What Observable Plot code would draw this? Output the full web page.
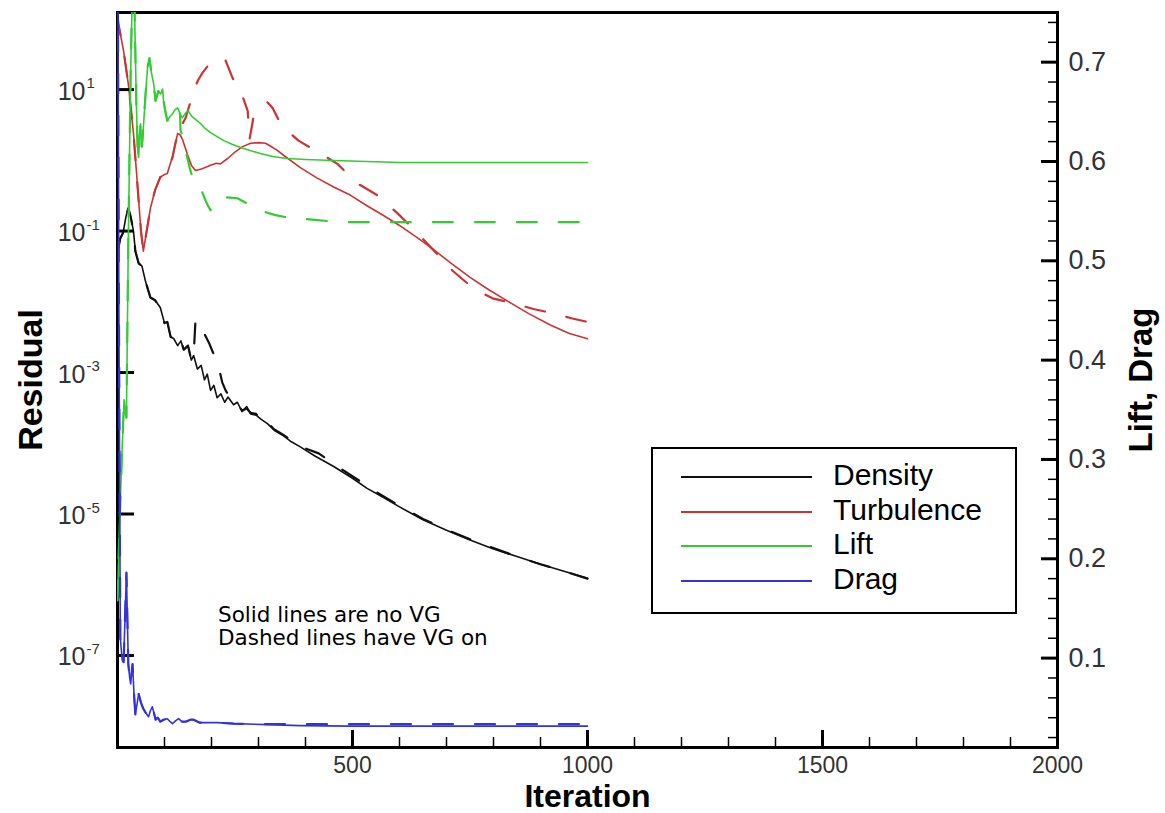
<!DOCTYPE html>
<html><head><meta charset="utf-8">
<script src="https://cdn.jsdelivr.net/npm/d3@7"></script>
<script src="https://cdn.jsdelivr.net/npm/@observablehq/plot@0.6"></script>
<style>
html,body{margin:0;padding:0;background:#fff;}
#wrap{position:relative;width:1165px;height:813px;overflow:hidden;font-family:"Liberation Sans",Arial,sans-serif;}
#wrap svg{position:absolute;left:0;top:0;}
#legend{position:absolute;left:651px;top:447px;width:362px;height:163px;border:2px solid #000;background:#fff;}
.lg{position:absolute;left:28px;width:131px;height:0;border-top:2px solid;}
.lt{position:absolute;left:180px;font-size:30px;line-height:30px;color:#000;}
#note{position:absolute;left:218px;top:603px;font-family:"DejaVu Sans","Liberation Sans",sans-serif;font-size:21.5px;line-height:23px;color:#000;}
</style></head><body><div id="wrap"><div id="legend"></div><div id="note"></div></div>
<script>
// ---------- data (iteration, value) ----------
const densityNoVG = [[0,5.0e-2],[6,7.9e-2],[12,9.5e-2],[18,1.6e-1],[23,2.1e-1],[28,1.6e-1],[34,1.0e-1],[38,5.2e-2],[45,3.5e-2],[52,3.2e-2],[60,1.9e-2],[70,1.15e-2],[80,1.05e-2],[91,8.3e-3],[100,5.0e-3],[106,5.2e-3],[113,3.2e-3],[120,3.0e-3],[128,2.4e-3],[135,2.8e-3],[141,2.1e-3],[150,2.4e-3],[157,1.5e-3],[162,1.74e-3],[170,1.12e-3],[178,1.26e-3],[185,7.9e-4],[191,9.5e-4],[198,5.6e-4],[205,6.6e-4],[212,4.4e-4],[220,5.0e-4],[228,3.8e-4],[235,4.5e-4],[247,3.5e-4],[255,3.8e-4],[265,2.8e-4],[275,3.3e-4],[283,2.6e-4],[295,2.5e-4],[305,2.2e-4],[319,1.9e-4],[335,1.5e-4],[354,1.26e-4],[370,1.05e-4],[389,8.9e-5],[420,6.6e-5],[460,4.7e-5],[500,3.2e-5],[531,2.3e-5],[567,1.7e-5],[600,1.26e-5],[650,8.3e-6],[700,5.9e-6],[750,4.3e-6],[800,3.2e-6],[850,2.5e-6],[900,1.95e-6],[950,1.55e-6],[1000,1.23e-6]];
const densityVGLate = [[166,5.6e-3],[172,4.9e-3],[180,4.0e-3],[187,3.3e-3],[195,2.6e-3],[202,2.0e-3],[210,1.5e-3],[215,1.23e-3],[223,7.2e-4],[230,5.6e-4],[236,4.8e-4],[247,3.7e-4],[255,3.6e-4],[265,2.9e-4],[275,3.1e-4],[283,2.7e-4],[295,2.6e-4],[305,2.2e-4],[311,2.4e-4],[322,1.9e-4],[332,1.6e-4],[354,1.3e-4],[370,1.1e-4],[389,9.0e-5],[428,7.2e-5],[468,4.7e-5],[513,3.0e-5],[553,2.0e-5],[600,1.3e-5],[650,8.5e-6],[700,6.0e-6],[750,4.4e-6],[800,3.3e-6],[850,2.5e-6],[900,1.95e-6],[950,1.55e-6],[1000,1.22e-6]];

const turbulenceNoVG = [[0,112],[2,85],[13,35],[23,12],[34,2.4],[45,0.27],[50,0.1],[55,5.2e-2],[62,0.1],[70,0.21],[80,0.38],[91,0.58],[100,0.63],[106,0.65],[112,0.89],[117,1.1],[122,1.6],[128,2.4],[133,2.3],[138,2.0],[145,1.45],[151,1.1],[158,0.83],[166,0.72],[180,0.76],[198,0.85],[210,0.91],[219,0.89],[235,1.07],[247,1.26],[265,1.55],[283,1.74],[300,1.78],[315,1.74],[326,1.58],[340,1.38],[354,1.17],[389,0.79],[425,0.56],[460,0.42],[496,0.32],[530,0.23],[566,0.166],[600,0.12],[640,7.9e-2],[672,5.5e-2],[710,3.5e-2],[751,2.2e-2],[790,1.48e-2],[830,1.02e-2],[875,6.8e-3],[921,4.7e-3],[960,3.6e-3],[1000,3.0e-3]];
const turbulenceVGLate = [[135,3.0],[145,4.0],[155,6.6],[162,9.8],[172,13.8],[181,17.4],[195,22.9],[209,27.5],[220,27.5],[230,25.7],[245,14.5],[255,11.5],[268,7.4],[277,5.0],[281,2.0],[285,2.8],[289,4.0],[305,5.6],[319,6.6],[330,5.5],[347,3.3],[365,2.5],[385,1.9],[428,1.29],[468,0.89],[511,0.47],[553,0.32],[596,0.178],[633,0.102],[683,4.5e-2],[713,2.75e-2],[757,1.55e-2],[798,1.12e-2],[843,9.5e-3],[885,7.9e-3],[930,6.8e-3],[968,5.8e-3],[1000,5.2e-3]];

const liftNoVG = [[0,0.158],[4,0.23],[9,0.30],[14,0.36],[19,0.342],[23,0.52],[28,0.69],[32,0.78],[36,0.76],[40,0.66],[43,0.61],[45,0.604],[47,0.625],[49,0.638],[52,0.615],[55,0.634],[60,0.67],[64,0.695],[68,0.704],[72,0.69],[77,0.678],[81,0.661],[87,0.671],[92,0.668],[96,0.673],[98,0.661],[102,0.65],[106,0.641],[111,0.645],[117,0.648],[122,0.652],[128,0.654],[133,0.648],[138,0.644],[145,0.649],[151,0.651],[157,0.646],[162,0.644],[170,0.641],[177,0.638],[187,0.633],[198,0.629],[212,0.625],[226,0.621],[245,0.617],[262,0.614],[282,0.611],[304,0.608],[330,0.605],[361,0.603],[400,0.602],[460,0.601],[530,0.600],[602,0.599],[700,0.599],[800,0.599],[900,0.599],[1000,0.599]];
const liftVGLate = [[134,0.632],[141,0.62],[148,0.605],[155,0.591],[162,0.581],[170,0.579],[178,0.572],[187,0.561],[193,0.555],[198,0.551],[202,0.553],[206,0.556],[213,0.561],[220,0.563],[230,0.564],[255,0.563],[275,0.558],[294,0.553],[315,0.549],[336,0.546],[358,0.544],[379,0.543],[400,0.542],[426,0.541],[468,0.539],[550,0.539],[700,0.539],[850,0.539],[1000,0.539]];

const dragNoVG = [[0,0.90],[3,0.45],[6,0.12],[10,0.098],[13,0.096],[16,0.14],[19,0.186],[21,0.14],[23,0.094],[26,0.080],[28,0.074],[30,0.085],[32,0.094],[35,0.065],[38,0.043],[42,0.055],[45,0.064],[50,0.055],[55,0.049],[60,0.045],[66,0.041],[70,0.047],[74,0.051],[78,0.044],[81,0.038],[86,0.040],[91,0.036],[98,0.038],[106,0.039],[112,0.036],[117,0.034],[124,0.037],[130,0.039],[137,0.036],[145,0.036],[155,0.038],[162,0.038],[175,0.035],[191,0.035],[212,0.035],[247,0.034],[319,0.033],[389,0.032],[500,0.0315],[700,0.0315],[1000,0.0315]];
const dragVGLate = [[319,0.0335],[400,0.0335],[600,0.0335],[800,0.0335],[1000,0.0335]];

const iterMajorTicks = [500, 1000, 1500, 2000];
const iterMinorTicks = [100,200,300,400,600,700,800,900,1100,1200,1300,1400,1600,1700,1800,1900];
const residualTicks = [1e1, 1e-1, 1e-3, 1e-5, 1e-7];
const residualExponents = ["1", "-1", "-3", "-5", "-7"];
const coefMajorTicks = [0.1, 0.2, 0.3, 0.4, 0.5, 0.6, 0.7];
const coefMinorTicks = [0.02,0.04,0.06,0.08,0.12,0.14,0.16,0.18,0.22,0.24,0.26,0.28,0.32,0.34,0.36,0.38,0.42,0.44,0.46,0.48,0.52,0.54,0.56,0.58,0.62,0.64,0.66,0.68,0.72,0.74];

const seriesNames = ["Density", "Turbulence", "Lift", "Drag"];
const seriesColors = ["#111111", "#cc3333", "#33cc33", "#3333dd"];

// ---------- build VG-on series from shared start + divergent part ----------
const withStart = (base, late) => [...base.filter(d => d[0] < late[0][0]), ...late];
const densityVG = withStart(densityNoVG, densityVGLate);
const turbulenceVG = withStart(turbulenceNoVG, turbulenceVGLate);
const liftVG = withStart(liftNoVG, liftVGLate);
const dragVG = withStart(dragNoVG, dragVGLate);

const W = 1165, H = 813;
const M = {marginLeft: 117, marginRight: 108, marginTop: 12, marginBottom: 66};
const font = "Liberation Sans, Arial, sans-serif";
const narrow = "Liberation Sans Narrow, Liberation Sans, Arial, sans-serif";
const DASH = "20,22";

const solid = (data, color) => Plot.line(data, {x: d => d[0], y: d => d[1], stroke: color, strokeWidth: 1.6, clip: true});
const dashed = (data, color) => Plot.line(data, {x: d => d[0], y: d => d[1], stroke: color, strokeWidth: 2.2, strokeDasharray: DASH, clip: true});

const plotA = Plot.plot({
  width: W, height: H, ...M,
  style: {background: "white", fontFamily: font},
  x: {domain: [0, 2000]},
  y: {type: "log", domain: [5e-9, 123]},
  marks: [
    dashed(densityVG, seriesColors[0]),
    solid(densityNoVG, seriesColors[0]),
    dashed(turbulenceVG, seriesColors[1]),
    solid(turbulenceNoVG, seriesColors[1]),
    Plot.axisX(iterMinorTicks, {anchor: "bottom", tickSize: -10, strokeWidth: 1.5, tickFormat: () => "", label: null}),
    Plot.axisX(iterMajorTicks, {anchor: "bottom", tickSize: -17, strokeWidth: 3, tickPadding: 26, tickFormat: d => String(d), fontSize: 23, fontFamily: narrow, fill: "#333", label: null}),
    Plot.axisY(residualTicks, {anchor: "left", tickSize: -17, strokeWidth: 3, tickFormat: () => "", label: null}),
    Plot.text(residualTicks, {y: d => d, frameAnchor: "left", text: () => "10", textAnchor: "end", lineAnchor: "middle", dx: -32, dy: 2, fontSize: 25, fontFamily: narrow, fill: "#333"}),
    Plot.text(residualTicks, {y: d => d, frameAnchor: "left", text: (d, i) => residualExponents[i], textAnchor: "start", lineAnchor: "middle", dx: -31, dy: -6, fontSize: 15, fontFamily: narrow, fill: "#333"}),
    Plot.text(["Residual"], {frameAnchor: "left", textAnchor: "middle", lineAnchor: "middle", dx: -86, rotate: -90, fontSize: 34, fontWeight: "bold", fontFamily: font, fill: "#000"}),
    Plot.text(["Iteration"], {frameAnchor: "bottom", textAnchor: "middle", lineAnchor: "middle", dy: 49, fontSize: 32, fontWeight: "bold", fontFamily: font, fill: "#000"}),
    Plot.frame({stroke: "#000", strokeWidth: 3})
  ]
});

const plotB = Plot.plot({
  width: W, height: H, ...M,
  style: {background: "transparent", fontFamily: font},
  x: {domain: [0, 2000], axis: null},
  y: {domain: [0.01, 0.75]},
  marks: [
    dashed(liftVG, seriesColors[2]),
    solid(liftNoVG, seriesColors[2]),
    dashed(dragVG, seriesColors[3]),
    solid(dragNoVG, seriesColors[3]),
    Plot.axisY(coefMinorTicks, {anchor: "right", tickSize: -10, strokeWidth: 1.5, tickFormat: () => "", label: null}),
    Plot.axisY(coefMajorTicks, {anchor: "right", tickSize: -17, strokeWidth: 3, tickPadding: 28, tickFormat: d => d.toFixed(1), fontSize: 27, fontFamily: font, fill: "#333", label: null}),
    Plot.text(["Lift, Drag"], {frameAnchor: "right", textAnchor: "middle", lineAnchor: "middle", dx: 84, rotate: -90, fontSize: 33, fontWeight: "bold", fontFamily: font, fill: "#000"})
  ]
});

const wrap = document.getElementById("wrap");
wrap.insertBefore(plotB, wrap.firstChild);
wrap.insertBefore(plotA, wrap.firstChild);

// ---------- legend & note ----------
const legend = document.getElementById("legend");
seriesNames.forEach((name, i) => {
  const top = 27 + i * 34.5;
  const l = document.createElement("div");
  l.className = "lg"; l.style.top = top + "px"; l.style.borderTopColor = seriesColors[i];
  legend.appendChild(l);
  const t = document.createElement("div");
  t.className = "lt"; t.style.top = (top - 16) + "px"; t.textContent = name;
  legend.appendChild(t);
});
const noteLines = ["Solid lines are no VG", "Dashed lines have VG on"];
document.getElementById("note").innerHTML = noteLines.map(s => `<div>${s}</div>`).join("");
</script></body></html>
